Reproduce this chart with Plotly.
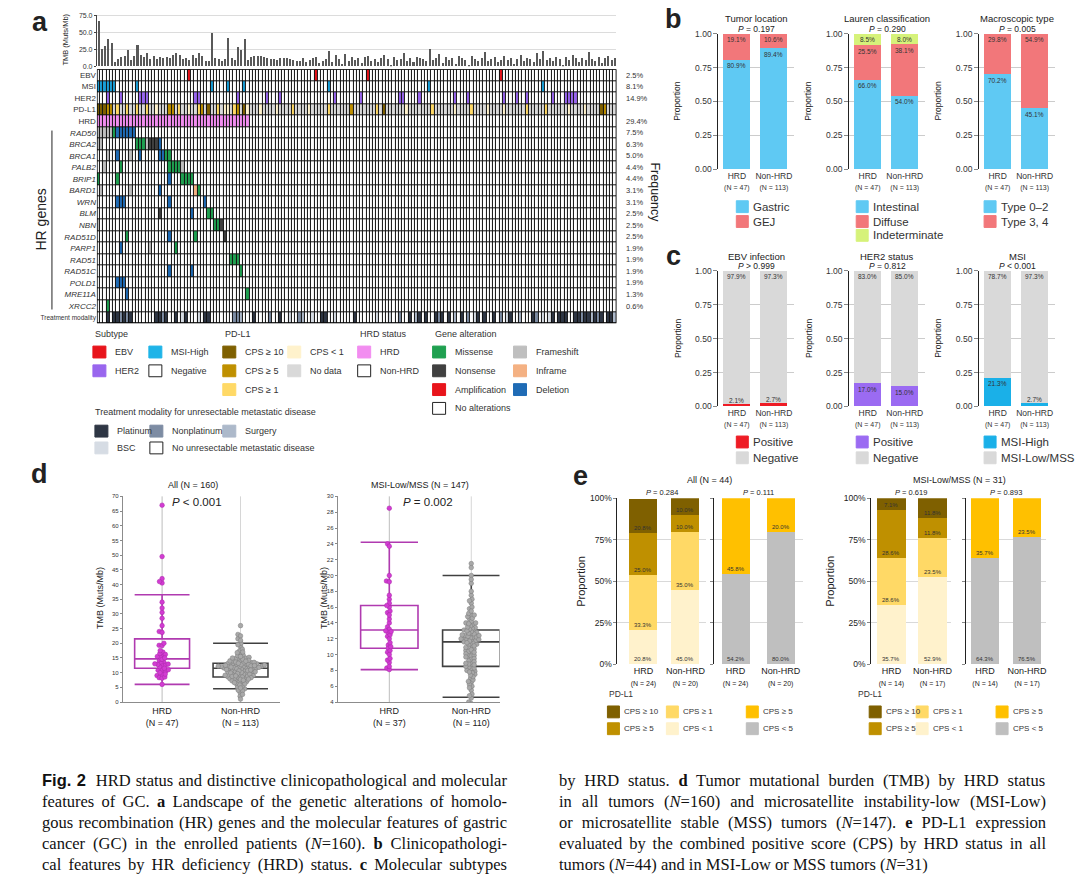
import math
import re
import plotly.graph_objects as go

W, H = 1080, 883
def X(px): return px / W
def Y(py): return 1 - py / H
SANS = "Liberation Sans, Arial, sans-serif"
SERIF = "Liberation Serif, Times New Roman, serif"

# ============================ DATA ============================
# Panel a: TMB (Muts/Mb) per patient column (47 HRD first, then 113 non-HRD)
tmb_hrd = [67.0, 26.0, 30.5, 40.5, 34.0, 6.0, 10.3, 14.0, 16.0, 24.0, 9.0, 15.3, 32.0, 17.0, 13.5, 19.3,
           11.2, 15.5, 10.8, 13.2, 12.3, 14.5, 12.0, 16.5, 19.2, 16.2, 10.5, 12.8, 9.3, 17.5, 13.0, 20.0,
           15.0, 8.3, 8.1, 49.5, 12.5, 11.0, 8.5, 11.5, 42.0, 12.9, 10.0, 28.5, 23.7, 41.0, 9.5]
tmb_nonhrd = [14.5, 15.0, 14.8, 15.2, 13.8, 12.5, 11.0, 10.2, 9.6, 11.8,
              13.0, 12.8, 11.4, 10.0, 8.6, 7.9, 12.2, 6.5, 9.0, 12.0,
              14.0, 4.5, 8.2, 10.5, 23.0, 7.0, 16.5, 11.6, 3.2, 19.0,
              7.5, 13.4, 9.8, 12.4, 5.5, 13.3, 15.8, 8.4, 11.2, 6.8,
              12.6, 17.5, 10.8, 2.0, 13.1, 9.4, 11.5, 20.0, 8.0, 12.9,
              6.0, 14.2, 11.9, 10.4, 7.2, 26.0, 9.2, 12.1, 18.0, 5.0,
              13.6, 8.8, 11.7, 4.0, 16.0, 12.3, 9.9, 1.0, 14.6, 10.7,
              8.5, 12.7, 21.5, 7.7, 11.3, 13.2, 6.2, 10.1, 15.5, 9.5,
              12.0, 3.8, 11.1, 17.0, 8.3, 13.0, 10.9, 5.8, 19.5, 11.5,
              22.5, 9.1, 12.5, 7.4, 14.0, 10.6, 2.6, 13.5, 8.7, 16.8,
              11.8, 6.6, 12.2, 9.7, 21.0, 10.3, 7.8, 13.9, 4.8, 11.9,
              15.0, 8.9, 12.4]

# Molecular features (patient column indices)
ebv_pos = [28, 67, 83, 124]
msi_high = [0, 1, 2, 3, 4, 5, 12, 35, 40, 45, 71, 102, 137]
her2_pos = [3, 7, 13, 14, 15, 30, 31, 43, 52, 56, 73, 81, 93, 94, 99, 110, 114, 125, 129, 132,
            140, 144, 145, 146, 147]
pdl1_cps10 = [0, 1, 2, 34, 45, 88, 155]
pdl1_cps5 = [3, 4, 22, 23, 32, 43, 78, 156]
pdl1_cps1 = [6, 9, 12, 15, 25, 31, 37, 42, 60, 71, 86, 103, 115, 132, 138]
pdl1_cpslt1 = [18, 28, 39, 40, 46, 50, 55, 65, 95, 110, 120, 125, 145, 150]

hr_genes = ['RAD50', 'BRCA2', 'BRCA1', 'PALB2', 'BRIP1', 'BARD1', 'WRN', 'BLM', 'NBN', 'RAD51D',
            'PARP1', 'RAD51', 'RAD51C', 'POLD1', 'MRE11A', 'XRCC2']
alt_frameshift = {'RAD50': [0, 1, 2, 3, 4], 'BRCA2': [0, 1, 15], 'BRCA1': [3, 10], 'PALB2': [2, 26],
                  'BARD1': [1, 10], 'NBN': [0], 'PARP1': [16]}
alt_missense = {'RAD50': [5], 'BRCA2': [12, 13, 14], 'BRCA1': [21, 22], 'PALB2': [7, 22, 23, 24, 25],
                'BRIP1': [0, 6, 26, 27, 28, 29], 'BARD1': [31], 'BLM': [34, 35], 'NBN': [36, 37],
                'RAD51D': [9, 30], 'PARP1': [24], 'RAD51': [41, 42, 43], 'RAD51C': [44],
                'MRE11A': [46], 'XRCC2': [3]}
alt_nonsense = {'BRCA2': [16, 17, 18], 'BLM': [19], 'NBN': [38], 'RAD51D': [39]}
alt_inframe = {'BARD1': [30]}
alt_deletion = {'RAD50': [6, 7, 8, 9, 10, 11], 'BRCA2': [19], 'BRCA1': [6, 13, 19, 20], 'BRIP1': [22],
                'BARD1': [19], 'WRN': [6, 7, 8, 22, 33], 'BLM': [29], 'RAD51D': [22], 'PARP1': [7],
                'RAD51C': [22, 29], 'POLD1': [6, 7, 8], 'MRE11A': [9]}

treat_platinum = [3, 5, 6, 8, 10, 18, 19, 21, 24, 27, 33, 34, 48, 56, 69, 70, 79, 96, 99, 101, 104, 106,
                  108, 112, 117, 119, 122, 127, 134, 140, 142, 143, 144, 147, 148, 150, 151, 153, 155,
                  157, 158]
treat_nonplatinum = [7, 9, 20, 42, 43, 53, 62, 93, 105, 114, 124, 135, 149, 154]
treat_surgery = [44, 63, 98, 110, 130, 152, 159]
treat_bsc = [26, 31, 59, 66, 73, 86, 90, 116, 126, 137, 139]

mol_rows = ['EBV', 'MSI', 'HER2', 'PD-L1', 'HRD']
mol_freq = ['2.5%', '8.1%', '14.9%', '', '29.4%']
gene_freq = ['7.5%', '6.3%', '5.0%', '4.4%', '4.4%', '3.1%', '3.1%', '2.5%', '2.5%', '2.5%',
             '1.9%', '1.9%', '1.9%', '1.9%', '1.3%', '0.6%']

# Panel b (percent, HRD vs non-HRD)
loc_cats = ['Gastric', 'GEJ']
loc_hrd = [80.9, 19.1]
loc_non = [89.4, 10.6]
lauren_cats = ['Intestinal', 'Diffuse', 'Indeterminate']
lauren_hrd = [66.0, 25.5, 8.5]
lauren_non = [54.0, 38.1, 8.0]
macro_cats = ['Type 0–2', 'Type 3, 4']
macro_hrd = [70.2, 29.8]
macro_non = [45.1, 54.9]
# Panel c
ebv_cats = ['Positive', 'Negative']
ebv_hrd = [2.1, 97.9]
ebv_non = [2.7, 97.3]
her2_cats = ['Positive', 'Negative']
her2_hrd = [17.0, 83.0]
her2_non = [15.0, 85.0]
msi_cats = ['MSI-High', 'MSI-Low/MSS']
msi_hrd = [21.3, 78.7]
msi_non = [2.7, 97.3]

# Panel d box statistics: lower whisker, Q1, median, Q3, upper whisker
box_all_hrd = [6.0, 11.5, 14.7, 21.5, 36.5]
box_all_non = [4.5, 8.5, 11.5, 13.2, 20.0]
box_mss_hrd = [8.1, 10.8, 13.1, 16.2, 24.2]
box_mss_non = [4.6, 8.5, 11.6, 13.1, 20.0]

# Panel e (percent, bottom -> top). 4 levels: CPS<1, CPS>=1, CPS>=5, CPS>=10 ; 2 levels: CPS<5, CPS>=5
e_all_n = [24, 20]
e_all_hrd4 = [20.8, 33.3, 25.0, 20.8]
e_all_non4 = [45.0, 35.0, 10.0, 10.0]
e_all_hrd2 = [54.2, 45.8]
e_all_non2 = [80.0, 20.0]
e_mss_n = [14, 17]
e_mss_hrd4 = [35.7, 28.6, 28.6, 7.1]
e_mss_non4 = [52.9, 23.5, 11.8, 11.8]
e_mss_hrd2 = [64.3, 35.7]
e_mss_non2 = [76.5, 23.5]

# Caption (segments: r regular, b bold, i italic, B bold sans)
cap_left = [[('B', 'Fig. 2'), ('r', '  HRD status and distinctive clinicopathological and molecular')],
            [('r', 'features of GC. '), ('b', 'a'), ('r', ' Landscape of the genetic alterations of homolo-')],
            [('r', 'gous recombination (HR) genes and the molecular features of gastric')],
            [('r', 'cancer (GC) in the enrolled patients ('), ('i', 'N'), ('r', '=160). '), ('b', 'b'),
             ('r', ' Clinicopathologi-')],
            [('r', 'cal features by HR deficiency (HRD) status. '), ('b', 'c'), ('r', ' Molecular subtypes')]]
cap_right = [[('r', 'by HRD status. '), ('b', 'd'), ('r', ' Tumor mutational burden (TMB) by HRD status')],
             [('r', 'in all tumors ('), ('i', 'N'), ('r', '=160) and microsatellite instability-low (MSI-Low)')],
             [('r', 'or microsatellite stable (MSS) tumors ('), ('i', 'N'), ('r', '=147). '), ('b', 'e'),
              ('r', ' PD-L1 expression')],
             [('r', 'evaluated by the combined positive score (CPS) by HRD status in all')],
             [('r', 'tumors ('), ('i', 'N'), ('r', '=44) and in MSI-Low or MSS tumors ('), ('i', 'N'), ('r', '=31)')]]

# ============================ FIGURE ============================
tmb = tmb_hrd + tmb_nonhrd
N_PAT = len(tmb)
N_HRD = len(tmb_hrd)

fig = go.Figure()
layout = dict(width=W, height=H, margin=dict(l=0, r=0, t=0, b=0), paper_bgcolor='white',
              plot_bgcolor='white', showlegend=False, barmode='stack',
              font=dict(family=SANS, color='#222', size=9))
annotations = []
shapes = []

def nm(i):
    return '' if i == 1 else str(i)

def axis_pair(i, xdom, ydom, xkw, ykw):
    layout['xaxis' + nm(i)] = dict(domain=[X(xdom[0]), X(xdom[1])], anchor='y' + nm(i), **xkw)
    layout['yaxis' + nm(i)] = dict(domain=[Y(ydom[1]), Y(ydom[0])], anchor='x' + nm(i), **ykw)

def ann(text, x, y, size=9, xanchor='center', yanchor='middle', angle=0, color='#222',
        xref='paper', yref='paper', family=SANS, **kw):
    d = dict(text=text, x=x, y=y, xref=xref, yref=yref, showarrow=False,
             font=dict(size=size, color=color, family=family), xanchor=xanchor, yanchor=yanchor,
             textangle=angle)
    d.update(kw)
    annotations.append(d)

def swatch(xpx, ycpx, color, w=13, h=12, border=None):
    lc = border if border else color
    shapes.append(dict(type='rect', xref='paper', yref='paper', x0=X(xpx), x1=X(xpx + w),
                       y0=Y(ycpx + h / 2), y1=Y(ycpx - h / 2), fillcolor=color,
                       line=dict(color=lc, width=1)))

# ---------------- panel a ----------------
fig.add_trace(go.Bar(x=list(range(N_PAT)), y=tmb, width=0.62, marker=dict(color='#595959', line=dict(width=0)),
                     xaxis='x', yaxis='y', hoverinfo='skip'))
axis_pair(1, (97, 617), (10, 62), dict(range=[-0.5, N_PAT - 0.5], visible=False),
          dict(range=[0, 76.5], tickvals=[0, 25, 50, 75], ticktext=['0.0', '25.0', '50.0', '75.0'],
               tickfont=dict(size=7, color='#333'), showgrid=True, gridcolor='#dcdcdc', showline=True,
               linecolor='#444', ticks='outside', ticklen=2, tickcolor='#444', zeroline=False))
ann('TMB (Muts/Mb)', X(66), Y(35), size=7.5, angle=-90)

CAT_COLORS = ['#ffffff', '#e8141b', '#1a9fd8', '#9966ee', '#7f6000', '#bf9000', '#ffd966', '#fff2cc',
              '#d9d9d9', '#f28df0', '#1fa050', '#404040', '#e8141b', '#bfbfbf', '#f4b183', '#1f6bb5',
              '#2e3644', '#7d8ca3', '#adb9ca', '#d6dce4']
ncat = len(CAT_COLORS)
cscale = []
for k, c in enumerate(CAT_COLORS):
    cscale.append([k / ncat, c])
    cscale.append([(k + 1) / ncat, c])

n_rows = len(mol_rows) + len(hr_genes) + 1
z = [[0] * N_PAT for _ in range(n_rows)]
for c in ebv_pos: z[0][c] = 1
for c in msi_high: z[1][c] = 2
for c in her2_pos: z[2][c] = 3
z[3] = [8] * N_PAT
for lst, v in ((pdl1_cps10, 4), (pdl1_cps5, 5), (pdl1_cps1, 6), (pdl1_cpslt1, 7)):
    for c in lst: z[3][c] = v
for c in range(N_HRD): z[4][c] = 9
for gi, g in enumerate(hr_genes):
    r = 5 + gi
    for dct, v in ((alt_missense, 10), (alt_nonsense, 11), (alt_frameshift, 13), (alt_inframe, 14),
                   (alt_deletion, 15)):
        for c in dct.get(g, []):
            z[r][c] = v
for lst, v in ((treat_platinum, 16), (treat_nonplatinum, 17), (treat_surgery, 18), (treat_bsc, 19)):
    for c in lst: z[n_rows - 1][c] = v

row_text = mol_rows + ['<i>%s</i>' % g for g in hr_genes] + ["<span style='font-size:6.5px'>Treatment modality</span>"]
fig.add_trace(go.Heatmap(z=z, x=list(range(N_PAT)), y=list(range(n_rows)), colorscale=cscale,
                         zmin=-0.5, zmax=ncat - 0.5, showscale=False, xgap=1, ygap=1,
                         xaxis='x2', yaxis='y2', hoverinfo='skip'))
axis_pair(2, (97, 617), (65, 322), dict(range=[-0.5, N_PAT - 0.5], visible=False),
          dict(range=[n_rows - 0.5, -0.5], tickvals=list(range(n_rows)), ticktext=row_text,
               tickfont=dict(size=8, color='#333'), ticks='', showgrid=False, zeroline=False,
               showline=False))
shapes.append(dict(type='rect', xref='x2', yref='y2', x0=-0.5, x1=N_PAT - 0.5, y0=-0.5, y1=n_rows - 0.5,
                   fillcolor='#111', line=dict(width=0), layer='below'))
shapes.append(dict(type='rect', xref='x2', yref='y2', x0=-0.5, x1=N_PAT - 0.5, y0=-0.5, y1=n_rows - 0.5,
                   fillcolor='rgba(0,0,0,0)', line=dict(color='#000', width=1.5), layer='above'))
for r, f in enumerate(mol_freq + gene_freq):
    if f:
        ann(f, X(625), r, size=7.5, xanchor='left', yref='y2', color='#333')
ann('HR genes', X(41), Y(217), size=14, angle=-90)
shapes.append(dict(type='line', xref='paper', yref='paper', x0=X(52), x1=X(52), y0=Y(127), y1=Y(308),
                   line=dict(color='#222', width=1)))
ann('Frequency', X(656), Y(190), size=12.5, angle=90)
ann('<b>a</b>', X(40), Y(17), size=27)

# legend of panel a
LEG = 9
def leg_item(x, y, color, label, border=None):
    swatch(x, y, color, border=border)
    ann(label, X(x + 20), Y(y), size=LEG, xanchor='left', color='#333')

for t, x in (('Subtype', 93), ('PD-L1', 223), ('HRD status', 358), ('Gene alteration', 433)):
    ann(t, X(x), Y(333), size=LEG, xanchor='left', color='#333')
leg_item(93, 351, CAT_COLORS[1], 'EBV')
leg_item(149, 351, '#1eb4e8', 'MSI-High')
leg_item(93, 370, CAT_COLORS[3], 'HER2')
leg_item(149, 370, '#ffffff', 'Negative', border='#222')
leg_item(223, 351, CAT_COLORS[4], 'CPS ≥ 10')
leg_item(223, 370, CAT_COLORS[5], 'CPS ≥ 5')
leg_item(223, 389, CAT_COLORS[6], 'CPS ≥ 1')
leg_item(288, 351, CAT_COLORS[7], 'CPS < 1')
leg_item(288, 370, CAT_COLORS[8], 'No data')
leg_item(358, 351, CAT_COLORS[9], 'HRD')
leg_item(358, 370, '#ffffff', 'Non-HRD', border='#222')
leg_item(433, 351, CAT_COLORS[10], 'Missense')
leg_item(433, 370, CAT_COLORS[11], 'Nonsense')
leg_item(433, 389, CAT_COLORS[12], 'Amplification')
leg_item(433, 408, '#ffffff', 'No alterations', border='#222')
leg_item(514, 351, CAT_COLORS[13], 'Frameshift')
leg_item(514, 370, CAT_COLORS[14], 'Inframe')
leg_item(514, 389, CAT_COLORS[15], 'Deletion')
ann('Treatment modality for unresectable metastatic disease', X(93), Y(412), size=LEG, xanchor='left', color='#333')
leg_item(95, 431, CAT_COLORS[16], 'Platinum')
leg_item(150, 431, CAT_COLORS[17], 'Nonplatinum')
leg_item(223, 431, CAT_COLORS[18], 'Surgery')
leg_item(95, 448, CAT_COLORS[19], 'BSC')
leg_item(150, 448, '#ffffff', 'No unresectable metastatic disease', border='#222')

# ---------------- panels b & c ----------------
BLUE, SALMON, LIME = '#5fc9f3', '#f2777a', '#d6f27a'
RED, GRAY, PURPLE, MSIB = '#ee1c25', '#d9d9d9', '#9b6bf2', '#1ab0e8'

def prop_panel(i, xl, ytop, ybot, title, ptxt, cats, colors, hrd, non, ntext, leg_x, leg_y):
    for k in range(len(cats)):
        fig.add_trace(go.Bar(x=[0, 1], y=[hrd[k] / 100, non[k] / 100], width=0.73,
                             marker=dict(color=colors[k], line=dict(width=0)),
                             xaxis='x' + nm(i), yaxis='y' + nm(i), hoverinfo='skip'))
    axis_pair(i, (xl, xl + 76), (ytop, ybot),
              dict(range=[-0.5, 1.55], tickvals=[0, 1],
                   ticktext=["HRD<br><span style='font-size:7px'>(N = %d)</span>" % ntext[0],
                             "Non-HRD<br><span style='font-size:7px'>(N = %d)</span>" % ntext[1]],
                   tickfont=dict(size=8.5, color='#333'), ticks='', showline=False, showgrid=False,
                   zeroline=False),
              dict(range=[0, 1.0], tickvals=[0, 0.25, 0.5, 0.75, 1.0],
                   ticktext=['0.00', '0.25', '0.50', '0.75', '1.00'], tickfont=dict(size=8.5, color='#333'),
                   showgrid=True, gridcolor='#cccccc', showline=True, linecolor='#222', ticks='outside',
                   ticklen=4, tickcolor='#888', zeroline=False))
    for xi, vals in ((0, hrd), (1, non)):
        cum = 0
        for v in vals:
            cum += v
            ann('%.1f%%' % v, xi, min(cum, 100) / 100, size=6.5, xref='x' + nm(i), yref='y' + nm(i),
                yshift=(-6 if v >= 5 else 3), color='#333')
    cx = xl + 38
    ann(title, X(cx), Y(ytop - 15), size=9.5)
    ann(ptxt, X(cx), Y(ytop - 5), size=8.5)
    ann('Proportion', X(xl - 41), Y((ytop + ybot) / 2), size=8.5, angle=-90)
    for k, cat in enumerate(cats):
        swatch(leg_x, leg_y[k], colors[k], w=12, h=12)
        ann(cat, X(leg_x + 15), Y(leg_y[k]), size=11.5, xanchor='left', color='#333')

BY, CY = (29, 166), (269, 406)
prop_panel(3, 719, BY[0], BY[1], 'Tumor location', '<i>P</i> = 0.197', loc_cats, [BLUE, SALMON],
           loc_hrd, loc_non, (47, 113), 737, [204, 219])
prop_panel(4, 850, BY[0], BY[1], 'Lauren classification', '<i>P</i> = 0.290', lauren_cats,
           [BLUE, SALMON, LIME], lauren_hrd, lauren_non, (47, 113), 857, [204, 219, 233])
prop_panel(5, 980, BY[0], BY[1], 'Macroscopic type', '<i>P</i> = 0.005', macro_cats, [BLUE, SALMON],
           macro_hrd, macro_non, (47, 113), 985, [204, 219])
prop_panel(6, 719, CY[0], CY[1], 'EBV infection', '<i>P</i> > 0.999', ebv_cats, [RED, GRAY],
           ebv_hrd, ebv_non, (47, 113), 737, [442, 458])
prop_panel(7, 850, CY[0], CY[1], 'HER2 status', '<i>P</i> = 0.812', her2_cats, [PURPLE, GRAY],
           her2_hrd, her2_non, (47, 113), 857, [442, 458])
prop_panel(8, 980, CY[0], CY[1], 'MSI', '<i>P</i> < 0.001', msi_cats, [MSIB, GRAY],
           msi_hrd, msi_non, (47, 113), 985, [442, 458])
ann('<b>b</b>', X(674), Y(14), size=27)
ann('<b>c</b>', X(674), Y(254), size=27)

# ---------------- panel d ----------------
def beeswarm(vals, ypx, xpx, d):
    order = sorted(range(len(vals)), key=lambda j: vals[j])
    placed = []
    off = [0.0] * len(vals)
    for j in order:
        yp = vals[j] * ypx
        iv = []
        for (px_, py_) in placed:
            dy = abs(py_ - yp)
            if dy < d:
                dx = math.sqrt(d * d - dy * dy)
                iv.append((px_ - dx, px_ + dx))
        cands = [0.0] + [a for a, b in iv] + [b for a, b in iv]
        cands.sort(key=lambda c: (abs(c), c))
        choice = 0.0
        for c in cands:
            if all(not (a + 1e-9 < c < b - 1e-9) for a, b in iv):
                choice = c
                break
        placed.append((choice, yp))
        off[j] = choice / xpx
    return off

mss_hrd = [v for j, v in enumerate(tmb_hrd) if j not in msi_high]
mss_non = [v for j, v in enumerate(tmb_nonhrd) if (j + N_HRD) not in msi_high]

def d_panel(i, xdom, xr, yr, dtick, groups, boxes, title, ptxt, title_x, p_x, ylab_x):
    ydom = (497, 705)
    ypx = (ydom[1] - ydom[0]) / (yr[1] - yr[0])
    xpx = (xdom[1] - xdom[0]) / (xr[1] - xr[0])
    styles = [('#b03ab0', '#d23cd2', '#a828a8'), ('#404040', '#a9a9a9', '#7a7a7a')]
    for k in range(2):
        shapes.append(dict(type='line', xref='x' + nm(i), yref='y' + nm(i) + ' domain', x0=k, x1=k,
                           y0=0, y1=1, line=dict(color='#bdbdbd' if k == 0 else '#d6d6d6', width=1),
                           layer='below'))
    for k, (vals, st) in enumerate(zip(groups, styles)):
        b = boxes[k]
        fig.add_trace(go.Box(x=[k], lowerfence=[b[0]], q1=[b[1]], median=[b[2]], q3=[b[3]],
                             upperfence=[b[4]], width=0.7, whiskerwidth=1, boxpoints=False,
                             line=dict(color=st[0], width=1.6), fillcolor='rgba(0,0,0,0)',
                             xaxis='x' + nm(i), yaxis='y' + nm(i), hoverinfo='skip'))
        off = beeswarm(vals, ypx, xpx, 3.0)
        fig.add_trace(go.Scatter(x=[k + o for o in off], y=vals, mode='markers',
                                 marker=dict(size=4.6, color=st[1], line=dict(color=st[2], width=0.5)),
                                 xaxis='x' + nm(i), yaxis='y' + nm(i), hoverinfo='skip'))
    axis_pair(i, xdom, ydom,
              dict(range=xr, tickvals=[0, 1],
                   ticktext=['HRD<br>(N = %d)' % len(groups[0]), 'Non-HRD<br>(N = %d)' % len(groups[1])],
                   tickfont=dict(size=9, color='#222'), ticks='', showline=True, linecolor='#8c8c8c',
                   showgrid=False, zeroline=False),
              dict(range=yr, dtick=dtick, tick0=yr[0], tickfont=dict(size=6, color='#333'), ticks='outside',
                   ticklen=2, tickcolor='#888', showline=True, linecolor='#8c8c8c', showgrid=False,
                   zeroline=False))
    ann(title, X(title_x), Y(485), size=9)
    ann(ptxt, X(p_x), Y(503), size=11.5)
    ann('TMB (Muts/Mb)', X(ylab_x), Y(600), size=9, angle=-90)

d_panel(9, (123, 280), [-0.5, 1.5], [0, 70], 5, [tmb_hrd, tmb_nonhrd], [box_all_hrd, box_all_non],
        'All (N = %d)' % N_PAT, '<i>P</i> < 0.001', 193, 197, 100)
d_panel(10, (338, 500), [-0.63, 1.345], [4, 30], 2, [mss_hrd, mss_non], [box_mss_hrd, box_mss_non],
        'MSI-Low/MSS (N = %d)' % (len(mss_hrd) + len(mss_non)), '<i>P</i> = 0.002', 420, 428, 325)
ann('<b>d</b>', X(40), Y(474), size=27)

# ---------------- panel e ----------------
CPS4 = ['#fff2cc', '#ffd966', '#bf9000', '#7f6000']
CPS2 = ['#bfbfbf', '#ffc000']

def e_panel(i, xdom, xr, bw, hrd, non, colors, ns, show_ticks, ptxt):
    for k in range(len(colors)):
        fig.add_trace(go.Bar(x=[0, 1], y=[hrd[k], non[k]], width=bw,
                             marker=dict(color=colors[k], line=dict(width=0)),
                             xaxis='x' + nm(i), yaxis='y' + nm(i), hoverinfo='skip'))
    axis_pair(i, xdom, (499, 667),
              dict(range=xr, tickvals=[0, 1],
                   ticktext=["HRD<br><span style='font-size:7px'>(N = %d)</span>" % ns[0],
                             "Non-HRD<br><span style='font-size:7px'>(N = %d)</span>" % ns[1]],
                   tickfont=dict(size=9, color='#222'), ticks='', showline=False, showgrid=False,
                   zeroline=False),
              dict(range=[0, 100], tickvals=[0, 25, 50, 75, 100],
                   ticktext=['0%', '25%', '50%', '75%', '100%'], showticklabels=show_ticks,
                   tickfont=dict(size=8.5, color='#222'), showgrid=True, gridcolor='#d9d9d9',
                   showline=True, linecolor='#222', ticks='outside', ticklen=3, tickcolor='#888',
                   zeroline=False))
    for xi, vals in ((0, hrd), (1, non)):
        cum = 0
        for v in vals:
            ann('%.1f%%' % v, xi, cum, size=6, xref='x' + nm(i), yref='y' + nm(i), yshift=5,
                color='#333')
            cum += v
    ann(ptxt, X((xdom[0] + xdom[1]) / 2), Y(493), size=7.5)

e_panel(11, (618, 707), [-0.62, 1.5], 0.67, e_all_hrd4, e_all_non4, CPS4, e_all_n, True, '<i>P</i> = 0.284')
e_panel(12, (715, 804), [-0.47, 1.5], 0.62, e_all_hrd2, e_all_non2, CPS2, e_all_n, False, '<i>P</i> = 0.111')
e_panel(13, (872, 952), [-0.49, 1.45], 0.7, e_mss_hrd4, e_mss_non4, CPS4, e_mss_n, True, '<i>P</i> = 0.619')
e_panel(14, (967, 1047), [-0.45, 1.45], 0.67, e_mss_hrd2, e_mss_non2, CPS2, e_mss_n, False, '<i>P</i> = 0.893')
ann('All (N = %d)' % sum(e_all_n), X(710), Y(480), size=9)
ann('MSI-Low/MSS (N = %d)' % sum(e_mss_n), X(960), Y(480), size=9)
ann('Proportion', X(582), Y(583), size=11, angle=-90)
ann('Proportion', X(831), Y(583), size=11, angle=-90)
ann('<b>e</b>', X(581), Y(476), size=27)

def e_legend(x0, xs):
    ann('PD-L1', X(x0), Y(697), size=8.5, xanchor='left', color='#333')
    items = [(xs[0], 715, CPS4[3], 'CPS ≥ 10'), (xs[1], 715, CPS4[1], 'CPS ≥ 1'), (xs[2], 715, CPS2[1], 'CPS ≥ 5'),
             (xs[0], 732, CPS4[2], 'CPS ≥ 5'), (xs[1], 732, CPS4[0], 'CPS < 1'), (xs[2], 732, CPS2[0], 'CPS < 5')]
    for x, y, c, t in items:
        swatch(x, y, c, w=12, h=12)
        ann(t, X(x + 15), Y(y), size=8, xanchor='left', color='#333')

e_legend(608, (608, 667, 747))
e_legend(857, (870, 917, 997))

# ---------------- caption (justified via word-spacing) ----------------
TW = {' ': 250, 'a': 444, 'b': 500, 'c': 444, 'd': 500, 'e': 444, 'f': 333, 'g': 500, 'h': 500, 'i': 278,
      'j': 278, 'k': 500, 'l': 278, 'm': 778, 'n': 500, 'o': 500, 'p': 500, 'q': 500, 'r': 333, 's': 389,
      't': 278, 'u': 500, 'v': 500, 'w': 722, 'x': 500, 'y': 500, 'z': 444, 'A': 722, 'B': 667, 'C': 667,
      'D': 722, 'E': 611, 'F': 556, 'G': 722, 'H': 722, 'I': 333, 'L': 611, 'M': 889, 'N': 722, 'P': 556,
      'R': 667, 'S': 556, 'T': 611, '(': 333, ')': 333, '.': 250, ',': 250, '-': 333, '=': 564, '/': 278}
TWB = {'a': 500, 'b': 556, 'c': 444, 'd': 556, 'e': 444}
AWB = {'F': 611, 'i': 278, 'g': 611, '.': 278, ' ': 278, '2': 556}
CAP_SIZE = 16.5

def seg_width(style, txt):
    w = 0
    for ch in txt:
        if style == 'B':
            w += AWB.get(ch, 556)
        elif style == 'b':
            w += TWB.get(ch, 500)
        elif style == 'i':
            w += 667 if ch == 'N' else TW.get(ch, 500)
        else:
            w += TW.get(ch, 500)
    return w / 1000 * CAP_SIZE

def cap_html(segs, target, justify):
    natural = sum(seg_width(s, t) for s, t in segs)
    nsp = sum(t.count(' ') for s, t in segs)
    ws = (target - natural) / nsp if (justify and nsp) else 0
    parts = []
    for s, t in segs:
        if s == 'B':
            parts.append("<b><span style='font-family:Liberation Sans'>%s</span></b>" % t)
        elif s == 'b':
            parts.append('<b>%s</b>' % t)
        elif s == 'i':
            parts.append('<i>%s</i>' % t)
        else:
            parts.append(t)
    return "<span style='word-spacing:%.2fpx'>%s</span>" % (ws, ''.join(parts))

for k, segs in enumerate(cap_left):
    ann(cap_html(segs, 465, True), X(40), Y(784 + k * 21.3), size=CAP_SIZE, xanchor='left',
        family=SERIF, color='#111')
for k, segs in enumerate(cap_right):
    ann(cap_html(segs, 487, k < len(cap_right) - 1), X(558), Y(784 + k * 21.3), size=CAP_SIZE,
        xanchor='left', family=SERIF, color='#111')

layout['annotations'] = annotations
layout['shapes'] = shapes
fig.update_layout(**layout)
fig.write_html("out.html")
